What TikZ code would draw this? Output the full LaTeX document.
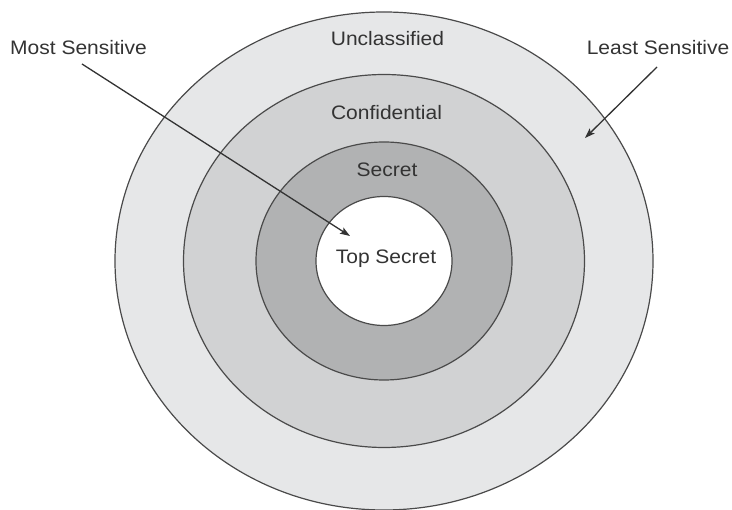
\documentclass[tikz,border=0pt]{standalone}
\usepackage{fontspec}
\setmainfont{Liberation Sans}
\usetikzlibrary{arrows.meta}
\definecolor{ringA}{HTML}{E6E7E8}
\definecolor{ringB}{HTML}{D1D2D3}
\definecolor{ringC}{HTML}{B1B2B3}
\definecolor{edge}{HTML}{4A4A4A}
\definecolor{ink}{HTML}{333333}
\tikzset{
  ring/.style={draw=edge, line width=1.2pt},
  lbl/.style={inner sep=0pt, text=ink, xscale=1.077,
    font=\fontsize{19.5}{22}\selectfont},
  pointer/.style={draw=ink, line width=1.3pt,
    -{Stealth[length=10pt, width=7pt, inset=2pt]}},
}
\begin{document}
\begin{tikzpicture}[x=1pt, y=-1pt]
  \useasboundingbox (0,0) rectangle (732,510);
  \fill[white] (0,0) rectangle (732,510);

  % concentric classification levels
  \coordinate (c) at (384,261);
  \draw[ring, fill=ringA] (c) ellipse [x radius=269pt, y radius=249pt];
  \draw[ring, fill=ringB] (c) ellipse [x radius=200.5pt, y radius=186.5pt];
  \draw[ring, fill=ringC] (c) ellipse [x radius=128pt, y radius=119pt];
  \draw[ring, fill=white] (c) ellipse [x radius=68pt, y radius=64.5pt];

  % level names
  \node[lbl] (unclass) at (387.5,38.5) {Unclassified};
  \node[lbl] (conf)    at (386.5,113)  {Confidential};
  \node[lbl] (secret)  at (387,170)    {Secret};
  \node[lbl] (top)     at (386,259)    {Top Secret};

  % sensitivity pointers
  \node[lbl] (most)  at (78.5,47.5) {Most Sensitive};
  \node[lbl] (least) at (658,47.5)  {Least Sensitive};
  \coordinate (ms-tail) at (82,64);
  \coordinate (ms-tip)  at (350,236);
  \coordinate (ls-tail) at (657,67);
  \coordinate (ls-tip)  at (585,138);
  \draw[pointer] (ms-tail) -- (ms-tip);
  \draw[pointer] (ls-tail) -- (ls-tip);
\end{tikzpicture}
\end{document}
